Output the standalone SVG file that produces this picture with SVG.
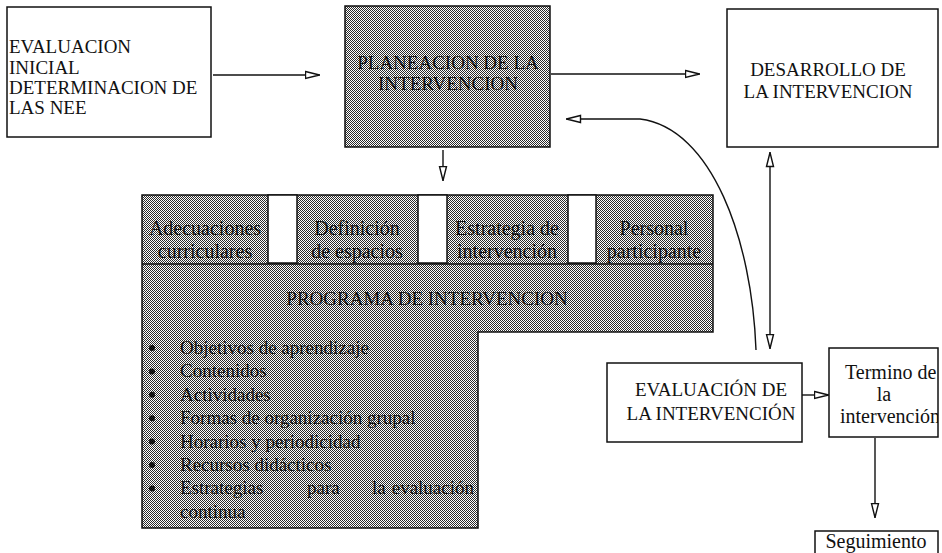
<svg xmlns="http://www.w3.org/2000/svg" width="942" height="553" viewBox="0 0 942 553" font-family="'Liberation Serif', 'DejaVu Serif', 'Times New Roman', serif">
  <defs>
    <style>
      .box { fill: #fff; stroke: #111; stroke-width: 1.5; }
      .shaded { fill: url(#dither); stroke: #111; stroke-width: 1.5; }
      .gap { fill: #fff; stroke: #111; stroke-width: 1.5; }
      .t { font-family: "Liberation Serif", "DejaVu Serif", "Times New Roman", serif; font-size: 19px; fill: #111; }
      .c { text-anchor: middle; }
      .sub { font-size: 20px; }
      .link { fill: none; stroke: #111; stroke-width: 1.4; }
      .arrow { marker-end: url(#head); }
    </style>
    <!-- halftone used for the planning block and program block -->
    <pattern id="dither" width="4" height="4" patternUnits="userSpaceOnUse">
      <rect width="4" height="4" fill="#fff"/>
      <path d="M0 0h1v1H0zM2 0h1v1H2zM1 1h1v1H1zM3 1h1v1H3zM0 2h1v1H0zM2 2h1v1H2zM1 3h1v1H1zM3 3h1v1H3z" fill="#2a2a2a" shape-rendering="crispEdges"/>
    </pattern>
    <!-- hollow triangular arrowhead -->
    <marker id="head" viewBox="0 0 16 10" refX="15.5" refY="5" markerWidth="16" markerHeight="10" markerUnits="userSpaceOnUse" orient="auto-start-reverse">
      <path d="M1 1.5 L15 5 L1 8.5 Z" fill="#fff" stroke="#111" stroke-width="1.4"/>
    </marker>
    <clipPath id="terminoClip">
      <rect x="829" y="348" width="109" height="89"/>
    </clipPath>
  </defs>

  <!-- initial evaluation -->
  <g id="n-evaluacion-inicial">
    <rect class="box" x="7" y="7" width="204" height="130"/>
    <text class="t" x="9" y="53">EVALUACION</text>
    <text class="t" x="9" y="74">INICIAL</text>
    <text class="t" x="9" y="94">DETERMINACION DE</text>
    <text class="t" x="9" y="114">LAS NEE</text>
  </g>

  <!-- planning -->
  <g id="n-planeacion">
    <rect class="shaded" x="345" y="6" width="205" height="141"/>
    <text class="t c" x="448" y="69">PLANEACION DE LA</text>
    <text class="t c" x="448" y="90">INTERVENCION</text>
  </g>

  <!-- development -->
  <g id="n-desarrollo">
    <rect class="box" x="727" y="9" width="211" height="138"/>
    <text class="t c" x="828" y="76">DESARROLLO DE</text>
    <text class="t c" x="828" y="98">LA INTERVENCION</text>
  </g>

  <!-- intervention program -->
  <g id="n-programa">
    <polygon class="shaded" points="142,195 713,195 713,332 478,332 478,528 142,528"/>
    <line x1="142" y1="264" x2="713" y2="264" stroke="#111" stroke-width="1.6"/>
    <rect class="gap" x="268" y="195" width="29" height="68"/>
    <rect class="gap" x="418" y="195" width="29" height="68"/>
    <rect class="gap" x="568" y="195" width="28" height="68"/>

    <g id="n-adecuaciones">
      <text class="t sub c" x="205" y="235">Adecuaciones</text>
      <text class="t sub c" x="205" y="258">curriculares</text>
    </g>
    <g id="n-definicion">
      <text class="t sub c" x="357" y="235">Definición</text>
      <text class="t sub c" x="357" y="258">de espacios</text>
    </g>
    <g id="n-estrategia">
      <text class="t sub c" x="507" y="235">Estrategia de</text>
      <text class="t sub c" x="507" y="258">intervención</text>
    </g>
    <g id="n-personal">
      <text class="t sub c" x="654" y="235">Personal</text>
      <text class="t sub c" x="654" y="258">participante</text>
    </g>

    <text class="t c" x="427" y="305">PROGRAMA DE INTERVENCION</text>

    <g id="n-contenido-programa">
      <g fill="#111">
        <circle cx="152" cy="348" r="3"/>
        <circle cx="152" cy="371.4" r="3"/>
        <circle cx="152" cy="394.8" r="3"/>
        <circle cx="152" cy="418.2" r="3"/>
        <circle cx="152" cy="441.6" r="3"/>
        <circle cx="152" cy="465" r="3"/>
        <circle cx="152" cy="488.4" r="3"/>
      </g>
      <text class="t" x="180" y="354">Objetivos de aprendizaje</text>
      <text class="t" x="180" y="377.4">Contenidos</text>
      <text class="t" x="180" y="400.8">Actividades</text>
      <text class="t" x="180" y="424.2">Formas de organización grupal</text>
      <text class="t" x="180" y="447.6">Horarios y periodicidad</text>
      <text class="t" x="180" y="471">Recursos didácticos</text>
      <text class="t" x="180" y="494.4">Estrategias</text>
      <text class="t" x="307" y="494.4">para</text>
      <text class="t" x="372" y="494.4">la</text>
      <text class="t" x="474" y="494.4" text-anchor="end">evaluación</text>
      <text class="t" x="180" y="517.8">continua</text>
    </g>
  </g>

  <!-- evaluation of the intervention -->
  <g id="n-evaluacion">
    <rect class="box" x="607" y="363" width="195" height="79"/>
    <text class="t c" x="711" y="396">EVALUACIÓN DE</text>
    <text class="t c" x="711" y="420">LA INTERVENCIÓN</text>
  </g>

  <!-- end of the intervention -->
  <g id="n-termino">
    <rect class="box" x="829" y="348" width="109" height="89"/>
    <g clip-path="url(#terminoClip)">
      <text class="t" x="845" y="379" style="font-size:20px">Termino de</text>
      <text class="t c" x="884" y="401" style="font-size:20px">la</text>
      <text class="t" x="840" y="423" style="font-size:20px">intervención</text>
    </g>
  </g>

  <!-- follow-up -->
  <g id="n-seguimiento">
    <rect class="box" x="815" y="531" width="123" height="30"/>
    <text class="t c" x="876" y="548" style="font-size:20px">Seguimiento</text>
  </g>

  <!-- connectors -->
  <g id="connectors">
    <line class="link arrow" x1="213" y1="75" x2="320" y2="75"/>
    <line class="link arrow" x1="551" y1="74" x2="700" y2="74"/>
    <line class="link arrow" x1="443" y1="150" x2="443" y2="181"/>
    <path class="link arrow" d="M756 350 C752 240 712 128 640 119 L566 119"/>
    <line class="link" x1="770" y1="152" x2="770" y2="349" marker-start="url(#head)" marker-end="url(#head)"/>
    <line class="link arrow" x1="802" y1="395" x2="829" y2="395"/>
    <line class="link arrow" x1="875" y1="438" x2="875" y2="518"/>
  </g>
</svg>
